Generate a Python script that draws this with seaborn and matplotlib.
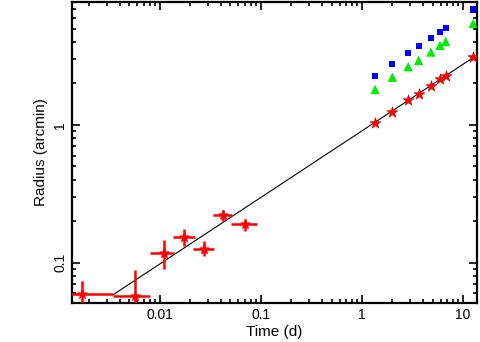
import numpy as np
import pandas as pd
import matplotlib
matplotlib.use('Agg')
import matplotlib.pyplot as plt
import seaborn as sns

sns.set_style('ticks', {'axes.edgecolor': 'black', 'xtick.color': 'black',
                        'ytick.color': 'black', 'text.color': 'black',
                        'axes.labelcolor': 'black'})
plt.rcParams['font.family'] = ['Liberation Sans', 'DejaVu Sans']

# early epochs with errors (time in days, radius in arcmin)
t_early = [0.0017, 0.00566, 0.0109, 0.0173, 0.0275, 0.0424, 0.070]
t_lo = [0.0010, 0.00345, 0.00796, 0.01354, 0.0214, 0.0337, 0.0505]
t_hi = [0.00345, 0.0080, 0.01387, 0.0222, 0.0345, 0.052, 0.0918]
r_early = [0.0596, 0.0577, 0.1175, 0.155, 0.126, 0.223, 0.191]
r_lo = [0.045, 0.040, 0.090, 0.133, 0.111, 0.1995, 0.171]
r_hi = [0.074, 0.088, 0.145, 0.175, 0.144, 0.242, 0.207]

# late epochs
t_late = [1.35, 2.0, 2.87, 3.64, 4.82, 5.92, 6.74, 12.6]
r_red = [1.03, 1.25, 1.52, 1.68, 1.92, 2.15, 2.26, 3.09]
r_green = [1.81, 2.22, 2.65, 2.94, 3.38, 3.78, 4.04, 5.46]
r_blue = [2.28, 2.78, 3.31, 3.73, 4.29, 4.75, 5.05, 6.89]

# power-law fit
fit_norm = 0.906
fit_index = 0.483
fit_range = [0.00345, 12.6]

late = pd.DataFrame({'t': t_late, 'red': r_red, 'green': r_green, 'blue': r_blue})

fig = plt.figure(figsize=(4.8, 3.42), dpi=100)
ax = fig.add_axes([0.15, 0.114, 0.844, 0.88])

tt = np.logspace(np.log10(fit_range[0]), np.log10(fit_range[1]), 100)
ax.plot(tt, fit_norm * tt ** fit_index, color='black', lw=0.8, zorder=2)

te = np.array(t_early)
re = np.array(r_early)
ax.errorbar(te, re,
            xerr=[te - np.array(t_lo), np.array(t_hi) - te],
            yerr=[re - np.array(r_lo), np.array(r_hi) - re],
            fmt='none', ecolor='red', elinewidth=1.8, capsize=0, zorder=3)
ax.scatter(te, re, marker='*', s=45, color='red', edgecolors='red', zorder=4)

sns.scatterplot(data=late, x='t', y='blue', marker='s', s=20, color='blue',
                edgecolor='none', ax=ax, zorder=4)
sns.scatterplot(data=late, x='t', y='green', marker='^', s=45, color='#00ee00',
                edgecolor='none', ax=ax, zorder=4)
sns.scatterplot(data=late, x='t', y='red', marker='*', s=70, color='red',
                edgecolor='#cc0000', linewidth=0.4, ax=ax, zorder=5)

ax.set_xscale('log')
ax.set_yscale('log')
ax.set_xlim(0.00135, 13.8)
ax.set_ylim(0.051, 7.8)
ax.set_xticks([0.01, 0.1, 1, 10])
ax.set_xticklabels(['0.01', '0.1', '1', '10'])
ax.set_yticks([0.1, 1])
ax.set_yticklabels(['0.1', '1'], rotation=90, va='center')
ax.tick_params(which='both', direction='in', top=True, right=True, labelsize=10, width=1.2)
ax.tick_params(which='major', length=6)
ax.tick_params(which='minor', length=3)
for sp in ax.spines.values():
    sp.set_linewidth(1.6)
ax.set_xlabel('Time (d)', fontsize=11, labelpad=2)
ax.set_ylabel('Radius (arcmin)', fontsize=11, labelpad=4)

fig.savefig('out.png', dpi=100)
